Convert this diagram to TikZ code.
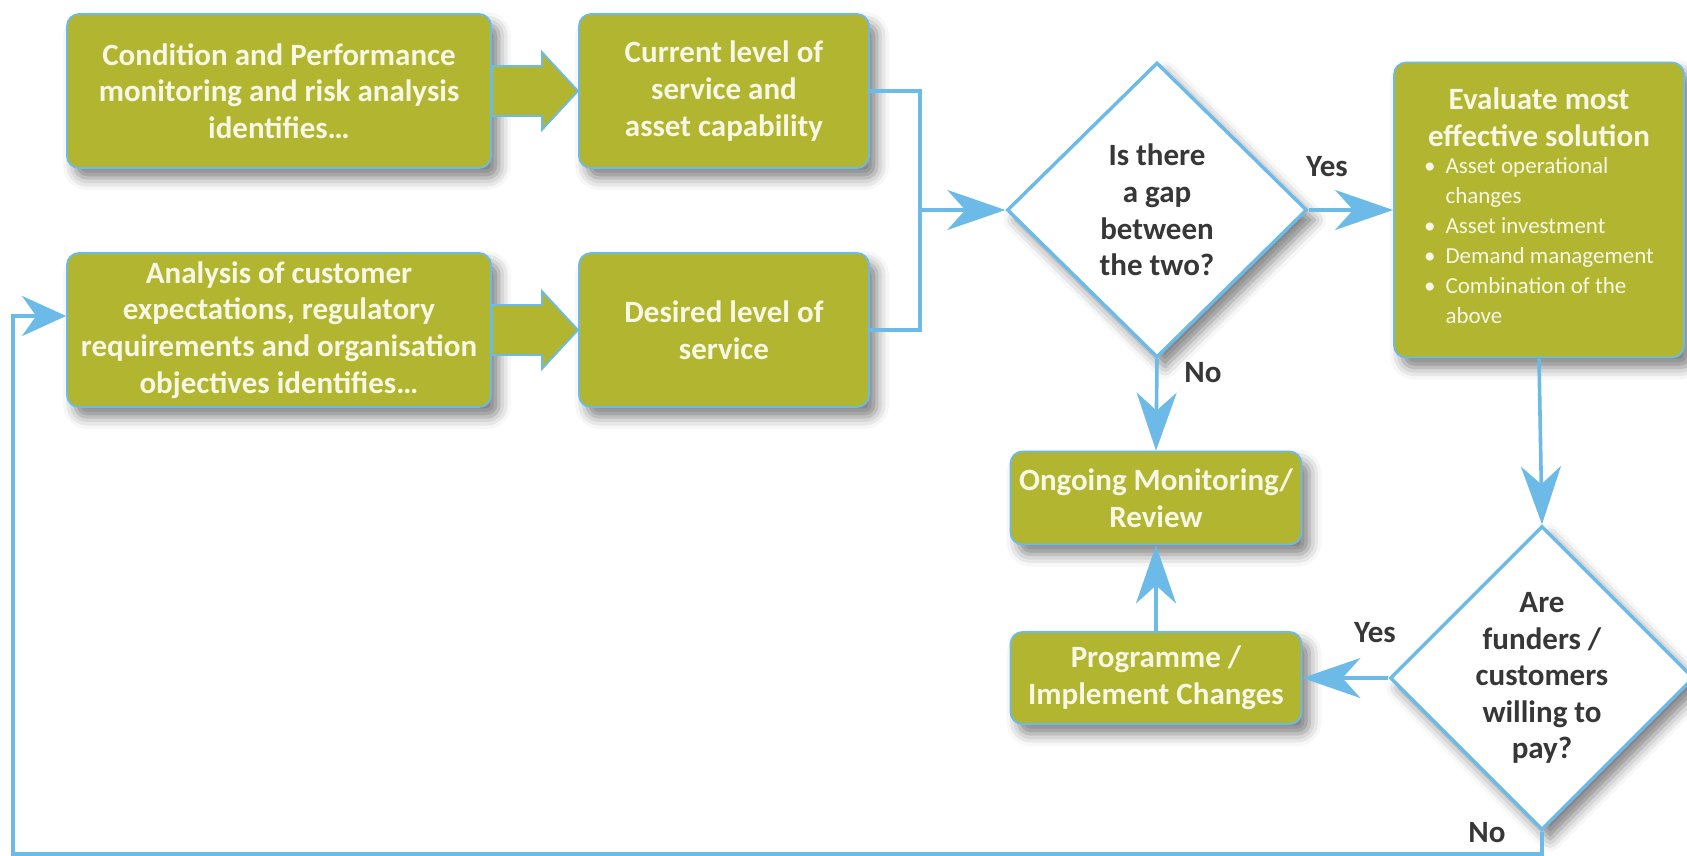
\documentclass[tikz,border=0pt]{standalone}
\usepackage{fontspec}
\setmainfont{Carlito}
\usetikzlibrary{shapes.geometric,arrows.meta,calc,shadows.blur}

\definecolor{boxgreen}{RGB}{178,181,48}
\definecolor{flowblue}{RGB}{108,186,232}
\definecolor{boxtext}{RGB}{247,247,230}
\definecolor{labelgrey}{RGB}{55,55,55}

\tikzset{
  boxshadow/.style={blur shadow={shadow xshift=4pt,shadow yshift=-5pt,shadow blur radius=6pt,shadow opacity=50}},
  greenbox/.style={rectangle,rounded corners=6pt,draw=flowblue,line width=0.9pt,fill=boxgreen,
    text=boxtext,font=\bfseries\fontsize{15.5}{18.3}\selectfont,align=center,inner sep=2pt,boxshadow},
  question/.style={diamond,aspect=1,draw=flowblue,line width=1.7pt,fill=white,inner sep=0pt,
    text=labelgrey,font=\bfseries\fontsize{15.5}{18.3}\selectfont,align=center,boxshadow},
  answer/.style={text=labelgrey,font=\bfseries\fontsize{15.5}{18.3}\selectfont},
  joinline/.style={draw=flowblue,line width=1.8pt},
  flow/.style={joinline,-{Stealth[length=29pt,width=20pt,inset=9pt]}},
  fatarrow/.style={draw=flowblue,line width=0.9pt,fill=boxgreen}
}

\begin{document}
\begin{tikzpicture}[x=0.5pt,y=0.5pt,yscale=-1,xscale=1]
\useasboundingbox (0,0) rectangle (1687,856);

% Shape: Rectangle
\node[greenbox,minimum width=212pt,minimum height=77pt] (condmon) at (279,91) {Condition and Performance\\monitoring and risk analysis\\identifies…};
% Shape: Rectangle
\node[greenbox,minimum width=145pt,minimum height=77pt] (current) at (724,91) {Current level of\\service and\\asset capability};
% Shape: Rectangle
\node[greenbox,minimum width=212pt,minimum height=77pt] (custexp) at (279,330) {Analysis of customer\\expectations, regulatory\\requirements and organisation\\objectives identifies…};
% Shape: Rectangle
\node[greenbox,minimum width=145pt,minimum height=77pt] (desired) at (724,330) {Desired level of\\service};
% Shape: Diamond
\node[question,minimum width=150pt,minimum height=147.5pt] (gap) at (1157,210) {Is there\\a gap\\between\\the two?};
% Shape: Rectangle
\node[greenbox,minimum width=145pt,minimum height=147.5pt] (evaluate) at (1539,210) {Evaluate most\\effective solution\\[2pt]
  {\mdseries\fontsize{11.5}{15}\selectfont\begin{tabular}{@{}l@{\hspace{5pt}}l@{}}
  \textbullet & Asset operational\\ & changes\\ \textbullet & Asset investment\\
  \textbullet & Demand management\\ \textbullet & Combination of the\\ & above
  \end{tabular}}};
% Shape: Rectangle
\node[greenbox,minimum width=145.5pt,minimum height=46.5pt] (ongoing) at (1156,498) {Ongoing Monitoring/\\Review};
% Shape: Rectangle
\node[greenbox,minimum width=145.5pt,minimum height=46pt] (programme) at (1156,678) {Programme /\\Implement Changes};
% Shape: Diamond
\node[question,minimum width=147pt,minimum height=146pt] (pay) at (1542,678) {Are\\funders /\\customers\\willing to\\pay?};

% Block arrows
\draw[fatarrow] ($(condmon.east)+(0,-25)$) -- ++(50,0) -- ++(0,-14) -- (current.west) -- ($(condmon.east)+(50,39)$) -- ++(0,-14) -- ($(condmon.east)+(0,25)$) -- cycle;
\draw[fatarrow] ($(custexp.east)+(0,-25)$) -- ++(50,0) -- ++(0,-14) -- (desired.west) -- ($(custexp.east)+(50,39)$) -- ++(0,-14) -- ($(custexp.east)+(0,25)$) -- cycle;

% Straight Lines
\coordinate (join) at (920,210);
\draw[joinline] (current.east) -| (join);
\draw[joinline] (desired.east) -| (join);
\draw[flow] (join) -- (gap.west);
\draw[flow] (gap.east) -- (evaluate.west);
\draw[flow] (gap.south) -- (ongoing.north);
\draw[flow] (evaluate.south) -- (pay.north);
\draw[flow] (pay.west) -- (programme.east);
\draw[flow] (programme.north) -- (ongoing.south);
\coordinate (loopcorner) at (13,854);
\draw[joinline,-{Stealth[length=22pt,width=20pt,inset=7pt]}] (pay.south) |- (loopcorner) |- ($(custexp.west)+(0,-14)$);

\node[answer] (yesgap) at (1327,167) {Yes};
\node[answer] (nogap) at (1203,373) {No};
\node[answer] (yespay) at (1375,633) {Yes};
\node[answer] (nopay) at (1487,833) {No};

\end{tikzpicture}
\end{document}
